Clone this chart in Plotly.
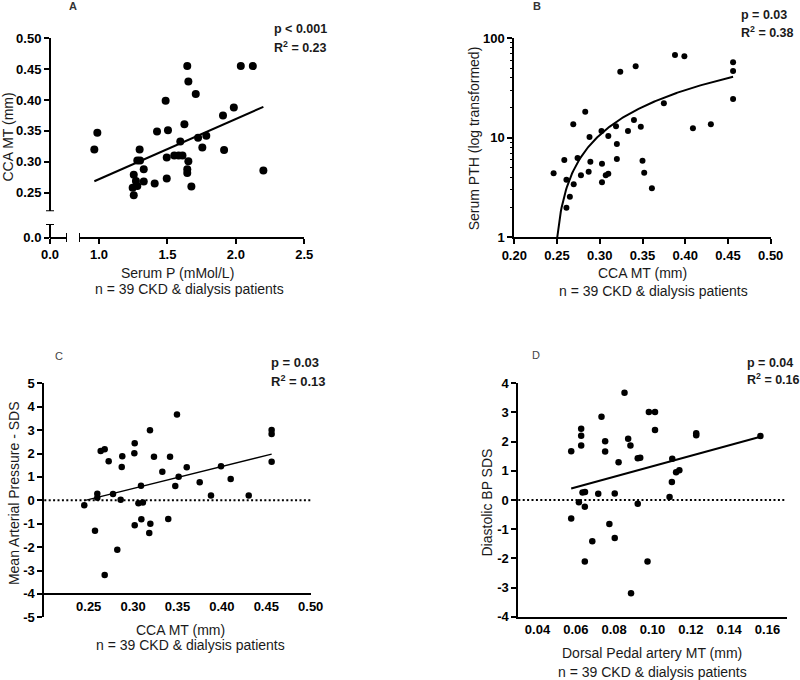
import plotly.graph_objects as go
import numpy as np

W, H = 800, 680


def px(x):
    return x / W


def py(y):
    return 1 - y / H


FONT = "Liberation Sans"

# ---------------- Panel A: CCA MT vs Serum P ----------------
a_serum_p = [0.988, 0.966, 1.645, 1.653, 1.707, 1.487, 2.036, 2.124, 1.985, 1.906,
             1.424, 1.504, 1.624, 1.724, 1.784, 1.594, 1.755, 1.914, 1.297, 1.28,
             1.30, 1.495, 1.55, 1.582, 1.61, 1.653, 1.645, 1.645, 2.201, 1.327,
             1.254, 1.27, 1.327, 1.246, 1.28, 1.254, 1.407, 1.495, 1.675]
a_cca_mt = [0.347, 0.320, 0.455, 0.430, 0.410, 0.399, 0.455, 0.455, 0.388, 0.375,
            0.349, 0.351, 0.361, 0.339, 0.342, 0.333, 0.323, 0.319, 0.320, 0.302,
            0.302, 0.307, 0.310, 0.310, 0.310, 0.301, 0.288, 0.282, 0.286, 0.288,
            0.279, 0.269, 0.268, 0.258, 0.261, 0.246, 0.265, 0.273, 0.260]
a_fit = {"slope": 0.0976, "intercept": 0.1742}
a_xticks = [1.0, 1.5, 2.0, 2.5]
a_yticks = [0.25, 0.30, 0.35, 0.40, 0.45, 0.50]
a_stats = ["p < 0.001", "R<sup>2</sup> = 0.23"]

# ---------------- Panel B: Serum PTH vs CCA MT ----------------
b_cca_mt = [0.388, 0.399, 0.342, 0.324, 0.375, 0.283, 0.269, 0.340, 0.319, 0.348,
            0.333, 0.302, 0.409, 0.430, 0.288, 0.310, 0.320, 0.2585, 0.274, 0.289,
            0.320, 0.350, 0.246, 0.278, 0.287, 0.3026, 0.307, 0.310, 0.352, 0.261,
            0.2695, 0.3026, 0.361, 0.265, 0.261, 0.456, 0.456, 0.456]
b_pth = [67.9, 65.9, 52.3, 46.2, 22.2, 18.3, 13.7, 15.1, 13.1, 12.9,
         11.7, 11.7, 12.5, 13.7, 10.2, 10.4, 8.67, 5.98, 6.27, 5.75,
         6.12, 5.89, 4.40, 4.20, 4.57, 5.49, 4.20, 4.36, 4.46, 3.79,
         3.41, 3.57, 3.11, 2.56, 1.98, 57.4, 46.9, 24.5]
b_fit = {"slope": 195.0, "intercept": -47.8}
b_xticks = [0.20, 0.25, 0.30, 0.35, 0.40, 0.45, 0.50]
b_stats = ["p = 0.03", "R<sup>2</sup> = 0.38"]

# ---------------- Panel C: Mean arterial pressure SDS vs CCA MT ----------------
c_cca_mt = [0.3494, 0.319, 0.3018, 0.2635, 0.268, 0.3014, 0.2878, 0.3235, 0.3416, 0.2725,
            0.2872, 0.3604, 0.399, 0.3329, 0.3513, 0.4099, 0.375, 0.3089, 0.3475, 0.2597,
            0.2597, 0.2774, 0.286, 0.3877, 0.4302, 0.245, 0.306, 0.311, 0.3093, 0.3018,
            0.3194, 0.3396, 0.3182, 0.2571, 0.2822, 0.268, 0.456, 0.456, 0.456]
c_map_sds = [3.67, 2.99, 2.44, 2.11, 2.18, 2.01, 1.88, 1.86, 1.86, 1.67,
             1.42, 1.41, 1.45, 1.22, 1.01, 0.91, 0.77, 0.62, 0.61, 0.28,
             0.11, 0.27, 0.02, 0.20, 0.21, -0.21, -0.13, -0.09, -0.81, -1.07,
             -1.00, -0.80, -1.40, -1.30, -2.11, -3.19, 3.00, 2.83, 1.65]
c_fit = {"slope": 9.39, "intercept": -2.31}
c_xticks = [0.25, 0.30, 0.35, 0.40, 0.45, 0.50]
c_yticks = [5, 4, 3, 2, 1, 0, -1, -2, -3, -4, -5]
c_stats = ["p = 0.03", "R<sup>2</sup> = 0.13"]

# ---------------- Panel D: Diastolic BP SDS vs Dorsal pedal artery MT ----------------
d_dpa_mt = [0.0854, 0.0981, 0.1013, 0.0734, 0.1013, 0.0628, 0.0628, 0.1228, 0.1228, 0.0753,
            0.0873, 0.0628, 0.0885, 0.0576, 0.0753, 0.0923, 0.0936, 0.1103, 0.0823, 0.1123,
            0.114, 0.1101, 0.0635, 0.0648, 0.0717, 0.0803, 0.1089, 0.0616, 0.0647, 0.0923,
            0.0576, 0.0775, 0.0803, 0.0686, 0.0647, 0.0974, 0.0888, 0.1563]
d_dbp_sds = [3.68, 3.02, 3.02, 2.85, 2.40, 2.44, 2.20, 2.29, 2.22, 2.01,
             2.10, 1.87, 1.87, 1.67, 1.66, 1.43, 1.45, 1.41, 1.29, 0.95,
             1.02, 0.62, 0.26, 0.27, 0.21, 0.22, 0.10, -0.08, -0.23, -0.13,
             -0.63, -0.82, -1.30, -1.41, -2.11, -2.11, -3.20, 2.19]
d_fit = {"slope": 18.0, "intercept": -0.644}
d_xticks = [0.04, 0.06, 0.08, 0.10, 0.12, 0.14, 0.16]
d_yticks = [4, 3, 2, 1, 0, -1, -2, -3, -4]
d_stats = ["p = 0.04", "R<sup>2</sup> = 0.16"]

subtitle = "n = 39 CKD & dialysis patients"

BLACK = "#000000"
TXT = "#1a1a1a"
tickfont = dict(family=FONT, size=13, color=BLACK, weight="bold")

fig = go.Figure()


def fit_line(xs, fit, n=2, x_start=None):
    x0 = min(xs) if x_start is None else x_start
    xx = np.linspace(x0, max(xs), n)
    return xx, fit["slope"] * xx + fit["intercept"]


# Panel A traces
fig.add_trace(go.Scatter(x=a_serum_p, y=a_cca_mt, mode="markers", xaxis="x", yaxis="y",
                         marker=dict(size=8, color=BLACK), cliponaxis=False))
lx, ly = fit_line(a_serum_p, a_fit)
fig.add_trace(go.Scatter(x=lx, y=ly, mode="lines", xaxis="x", yaxis="y",
                         line=dict(color=BLACK, width=2)))
fig.add_trace(go.Scatter(x=[], y=[], mode="markers", xaxis="x5", yaxis="y5"))

# Panel B traces
fig.add_trace(go.Scatter(x=b_cca_mt, y=b_pth, mode="markers", xaxis="x2", yaxis="y2",
                         marker=dict(size=6, color=BLACK), cliponaxis=False))
b_x0 = (1 - b_fit["intercept"]) / b_fit["slope"]
lx, ly = fit_line(b_cca_mt, b_fit, n=200, x_start=b_x0)
fig.add_trace(go.Scatter(x=lx, y=ly, mode="lines", xaxis="x2", yaxis="y2",
                         line=dict(color=BLACK, width=2)))

# Panel C traces
fig.add_trace(go.Scatter(x=c_cca_mt, y=c_map_sds, mode="markers", xaxis="x3", yaxis="y3",
                         marker=dict(size=6.5, color=BLACK), cliponaxis=False))
lx, ly = fit_line(c_cca_mt, c_fit)
fig.add_trace(go.Scatter(x=lx, y=ly, mode="lines", xaxis="x3", yaxis="y3",
                         line=dict(color=BLACK, width=1.3)))

# Panel D traces
fig.add_trace(go.Scatter(x=d_dpa_mt, y=d_dbp_sds, mode="markers", xaxis="x4", yaxis="y4",
                         marker=dict(size=6.5, color=BLACK), cliponaxis=False))
lx, ly = fit_line(d_dpa_mt, d_fit)
fig.add_trace(go.Scatter(x=lx, y=ly, mode="lines", xaxis="x4", yaxis="y4",
                         line=dict(color=BLACK, width=2)))

common = dict(showgrid=False, zeroline=False, showline=True, linecolor=BLACK, linewidth=2,
              tickfont=tickfont, tickcolor=BLACK, fixedrange=True, automargin=False)

layout = dict(
    template="none",
    width=W, height=H, margin=dict(l=0, r=0, t=0, b=0, pad=0),
    paper_bgcolor="white", plot_bgcolor="white", showlegend=False,
    # ---- A ----
    xaxis=dict(domain=[px(79), px(304.3)], range=[0.854, 2.5], anchor="free", position=py(237.7),
               tickvals=a_xticks, ticktext=[f"{v:.1f}" for v in a_xticks],
               ticks="outside", ticklen=5, tickwidth=2, **common),
    yaxis=dict(domain=[py(211.2), py(38.3)], range=[0.22, 0.50], anchor="free", position=px(50),
               tickvals=a_yticks, ticktext=[f"{v:.2f}" for v in a_yticks],
               ticks="outside", ticklen=5, tickwidth=2, **common),
    xaxis5=dict(domain=[px(50), px(67)], range=[0, 0.124], anchor="free", position=py(237.7),
                tickvals=[0], ticktext=["0.0"], ticks="outside", ticklen=5, tickwidth=2, **common),
    yaxis5=dict(domain=[py(237.7), py(224)], range=[0, 0.0222], anchor="free", position=px(50),
                tickvals=[0], ticktext=["0.0"], ticks="outside", ticklen=5, tickwidth=2, **common),
    # ---- B ----
    xaxis2=dict(domain=[px(514.3), px(770.7)], range=[0.20, 0.50], anchor="y2",
                tickvals=b_xticks, ticktext=[f"{v:.2f}" for v in b_xticks],
                ticks="outside", ticklen=5, tickwidth=2, **common),
    yaxis2=dict(domain=[py(237.3), py(38.3)], type="log", range=[0, 2], anchor="x2",
                tickvals=[1, 10, 100], ticktext=["1", "10", "100"],
                ticks="outside", ticklen=5, tickwidth=2,
                minor=dict(ticks="outside", ticklen=2, tickwidth=1, tickcolor=BLACK, dtick="D1", showgrid=False),
                **common),
    # ---- C ----
    xaxis3=dict(domain=[px(44.3), px(310.7)], range=[0.20, 0.50], anchor="free", position=py(594),
                tickvals=c_xticks, ticktext=[f"{v:.2f}" for v in c_xticks],
                ticks="", **common),
    yaxis3=dict(domain=[py(617.3), py(383.3)], range=[-5, 5], anchor="x3",
                tickvals=c_yticks, ticktext=[str(v) for v in c_yticks],
                ticks="outside", ticklen=5, tickwidth=2, **common),
    # ---- D ----
    xaxis4=dict(domain=[px(518.3), px(786.7)], range=[0.03, 0.17], anchor="y4",
                tickvals=d_xticks, ticktext=[f"{v:.2f}" for v in d_xticks],
                ticks="", **common),
    yaxis4=dict(domain=[py(616.7), py(383.3)], range=[-4, 4], anchor="x4",
                tickvals=d_yticks, ticktext=[str(v) for v in d_yticks],
                ticks="outside", ticklen=5, tickwidth=2, **common),
)
fig.update_layout(**layout)

# Axis break marks (panel A) and dotted zero reference lines (C, D)
brk = dict(color=BLACK, width=2)
fig.add_shape(type="line", xref="paper", yref="y", x0=px(46), x1=px(54), y0=0.22, y1=0.22, line=brk)
fig.add_shape(type="line", xref="paper", yref="y5", x0=px(46), x1=px(54), y0=0.0222, y1=0.0222, line=brk)
fig.add_shape(type="line", xref="x5", yref="paper", x0=0.124, x1=0.124, y0=py(242), y1=py(233), line=brk)
fig.add_shape(type="line", xref="x", yref="paper", x0=0.854, x1=0.854, y0=py(242), y1=py(233), line=brk)
dot = dict(color=BLACK, width=2, dash="2px,2.4px")
fig.add_shape(type="line", xref="x3 domain", yref="y3", x0=0, x1=1, y0=0, y1=0, line=dot)
fig.add_shape(type="line", xref="x4 domain", yref="y4", x0=0, x1=1, y0=0, y1=0, line=dot)


def ann(text, x, y, size=14, bold=False, angle=0, xanchor="center", color=TXT):
    fig.add_annotation(text=text, x=px(x), y=py(y), xref="paper", yref="paper",
                       showarrow=False, xanchor=xanchor, yanchor="middle", textangle=angle,
                       font=dict(family=FONT, size=size, color=color,
                                 weight="bold" if bold else "normal"))


# Panel A texts
ann("A", 72.7, 6, size=11, bold=True, color="#333")
ann("CCA MT (mm)", 8, 137.5, angle=-90)
ann("Serum P (mMol/L)", 177, 272.7)
ann(subtitle, 189, 289.3)
ann(a_stats[0], 271.7, 29.3, size=12.5, bold=True, xanchor="left")
ann(a_stats[1], 271.7, 46.7, size=12.5, bold=True, xanchor="left")

# Panel B texts
ann("B", 537.3, 6, size=11, bold=True, color="#333")
ann("Serum PTH (log transformed)", 474, 138.3, angle=-90)
ann("CCA MT (mm)", 642, 272.7)
ann(subtitle, 653, 291)
ann(b_stats[0], 739.3, 15, size=12.5, bold=True, xanchor="left")
ann(b_stats[1], 739.3, 32.3, size=12.5, bold=True, xanchor="left")

# Panel C texts
ann("C", 59, 355.7, size=11, color="#444")
ann("Mean Arterial Pressure - SDS", 13.8, 493.3, angle=-90)
ann("CCA MT (mm)", 180, 630)
ann(subtitle, 190.8, 645)
ann(c_stats[0], 269.3, 362.7, size=13, bold=True, xanchor="left")
ann(c_stats[1], 269.3, 380.7, size=13, bold=True, xanchor="left")

# Panel D texts
ann("D", 535.7, 355, size=11, color="#444")
ann("Diastolic BP SDS", 486, 502.5, angle=-90)
ann("Dorsal Pedal artery MT (mm)", 651.8, 653.3)
ann(subtitle, 652.3, 671.7)
ann(d_stats[0], 744.5, 362.7, size=12.5, bold=True, xanchor="left")
ann(d_stats[1], 744.5, 379.3, size=12.5, bold=True, xanchor="left")

fig.write_html("out.html", config={"displayModeBar": False},
               post_script="document.body.style.margin='0px';document.body.style.overflow='hidden';")
